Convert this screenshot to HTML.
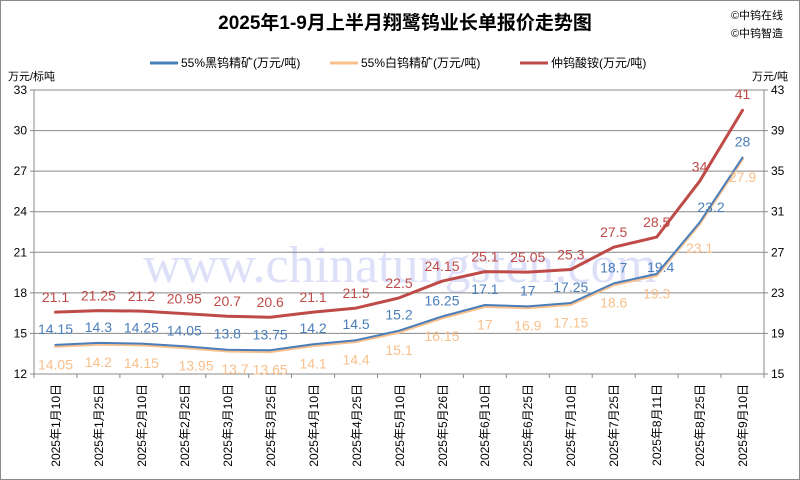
<!DOCTYPE html>
<html><head><meta charset="utf-8"><style>
html,body{margin:0;padding:0;background:#fff}
svg{display:block;font-family:"Liberation Sans","Noto Sans CJK SC",sans-serif}
</style></head><body>
<svg width="800" height="480" viewBox="0 0 800 480" xmlns="http://www.w3.org/2000/svg">
<rect x="0.5" y="0.5" width="799" height="479" fill="#fff" stroke="#8a8a8a"/>
<text x="405" y="29" text-anchor="middle" font-size="19" font-weight="bold" fill="#000">2025年1-9月上半月翔鹭钨业长单报价走势图</text>
<text x="757" y="19" text-anchor="middle" font-size="11" fill="#000">©中钨在线</text>
<text x="757" y="37" text-anchor="middle" font-size="11" fill="#000">©中钨智造</text>
<line x1="150" y1="63" x2="178" y2="63" stroke="#4a7ebb" stroke-width="3"/>
<text x="181" y="67" font-size="12">55%黑钨精矿(万元/吨)</text>
<line x1="330" y1="63" x2="358" y2="63" stroke="#f9c08c" stroke-width="3"/>
<text x="361" y="67" font-size="12">55%白钨精矿(万元/吨)</text>
<line x1="520" y1="63" x2="548" y2="63" stroke="#be4b48" stroke-width="3"/>
<text x="551" y="67" font-size="12">仲钨酸铵(万元/吨)</text>
<text x="8" y="80" font-size="11">万元/标吨</text>
<text x="752" y="80" font-size="11">万元/吨</text>
<text x="400" y="282" text-anchor="middle" font-size="52" font-family="Liberation Serif,serif" fill="#c8ccf4" opacity="0.6">www.chinatungsten.com</text>
<g stroke="#888" stroke-width="1">
<line x1="34" y1="90" x2="764" y2="90"/><line x1="34" y1="130.6" x2="764" y2="130.6"/>
<line x1="34" y1="171.1" x2="764" y2="171.1"/><line x1="34" y1="211.7" x2="764" y2="211.7"/>
<line x1="34" y1="252.3" x2="764" y2="252.3"/><line x1="34" y1="292.9" x2="764" y2="292.9"/>
<line x1="34" y1="333.4" x2="764" y2="333.4"/><line x1="30" y1="374" x2="768" y2="374"/>
<line x1="34" y1="90" x2="34" y2="374"/><line x1="764" y1="90" x2="764" y2="374"/>
<line x1="30" y1="90" x2="34" y2="90"/><line x1="30" y1="130.6" x2="34" y2="130.6"/><line x1="30" y1="171.1" x2="34" y2="171.1"/><line x1="30" y1="211.7" x2="34" y2="211.7"/><line x1="30" y1="252.3" x2="34" y2="252.3"/><line x1="30" y1="292.9" x2="34" y2="292.9"/><line x1="30" y1="333.4" x2="34" y2="333.4"/>
<line x1="764" y1="90" x2="768" y2="90"/><line x1="764" y1="130.6" x2="768" y2="130.6"/><line x1="764" y1="171.1" x2="768" y2="171.1"/><line x1="764" y1="211.7" x2="768" y2="211.7"/><line x1="764" y1="252.3" x2="768" y2="252.3"/><line x1="764" y1="292.9" x2="768" y2="292.9"/><line x1="764" y1="333.4" x2="768" y2="333.4"/>
<line x1="34" y1="374" x2="34" y2="378"/><line x1="76.9" y1="374" x2="76.9" y2="378"/><line x1="119.9" y1="374" x2="119.9" y2="378"/><line x1="162.8" y1="374" x2="162.8" y2="378"/><line x1="205.8" y1="374" x2="205.8" y2="378"/><line x1="248.7" y1="374" x2="248.7" y2="378"/><line x1="291.6" y1="374" x2="291.6" y2="378"/><line x1="334.6" y1="374" x2="334.6" y2="378"/><line x1="377.5" y1="374" x2="377.5" y2="378"/><line x1="420.5" y1="374" x2="420.5" y2="378"/><line x1="463.4" y1="374" x2="463.4" y2="378"/><line x1="506.3" y1="374" x2="506.3" y2="378"/><line x1="549.3" y1="374" x2="549.3" y2="378"/><line x1="592.2" y1="374" x2="592.2" y2="378"/><line x1="635.2" y1="374" x2="635.2" y2="378"/><line x1="678.1" y1="374" x2="678.1" y2="378"/><line x1="721" y1="374" x2="721" y2="378"/><line x1="764" y1="374" x2="764" y2="378"/>
</g>
<g font-size="12" fill="#000" text-anchor="end">
<text x="27" y="94">33</text><text x="27" y="134.6">30</text><text x="27" y="175.1">27</text><text x="27" y="215.7">24</text><text x="27" y="256.3">21</text><text x="27" y="296.9">18</text><text x="27" y="337.4">15</text><text x="27" y="378">12</text>
</g>
<g font-size="12" fill="#000">
<text x="771" y="94">43</text><text x="771" y="134.6">39</text><text x="771" y="175.1">35</text><text x="771" y="215.7">31</text><text x="771" y="256.3">27</text><text x="771" y="296.9">23</text><text x="771" y="337.4">19</text><text x="771" y="378">15</text>
</g>
<g font-size="12" fill="#000" text-anchor="end">
<text transform="translate(60,384) rotate(-90)">2025年1月10日</text>
<text transform="translate(103,384) rotate(-90)">2025年1月25日</text>
<text transform="translate(146,384) rotate(-90)">2025年2月10日</text>
<text transform="translate(189,384) rotate(-90)">2025年2月25日</text>
<text transform="translate(232,384) rotate(-90)">2025年3月10日</text>
<text transform="translate(275,384) rotate(-90)">2025年3月25日</text>
<text transform="translate(318,384) rotate(-90)">2025年4月10日</text>
<text transform="translate(361,384) rotate(-90)">2025年4月25日</text>
<text transform="translate(404,384) rotate(-90)">2025年5月10日</text>
<text transform="translate(447,384) rotate(-90)">2025年5月26日</text>
<text transform="translate(489,384) rotate(-90)">2025年6月10日</text>
<text transform="translate(532,384) rotate(-90)">2025年6月25日</text>
<text transform="translate(575,384) rotate(-90)">2025年7月10日</text>
<text transform="translate(618,384) rotate(-90)">2025年7月25日</text>
<text transform="translate(661,384) rotate(-90)">2025年8月11日</text>
<text transform="translate(704,384) rotate(-90)">2025年8月25日</text>
<text transform="translate(747,384) rotate(-90)">2025年9月10日</text>
</g>
<g fill="none" stroke-linejoin="round" stroke-linecap="round">
<polyline stroke="#f9c08c" stroke-width="3" points="55.5,346.3 98.4,344.2 141.4,344.9 184.3,347.6 227.3,351 270.2,351.7 313.1,345.6 356.1,341.5 399,332.1 442,317.9 484.9,306.4 527.8,307.7 570.8,304.4 613.7,284.7 656.7,275.3 699.6,223.8 742.5,158.9"/>
<polyline stroke="#4a7ebb" stroke-width="2" points="55.5,344.9 98.4,342.9 141.4,343.6 184.3,346.3 227.3,349.7 270.2,350.3 313.1,344.2 356.1,340.2 399,330.7 442,316.5 484.9,305 527.8,306.4 570.8,303 613.7,283.4 656.7,273.9 699.6,222.5 742.5,157.6"/>
<polyline stroke="#be4b48" stroke-width="3" points="55.5,312.1 98.4,310.6 141.4,311.1 184.3,313.6 227.3,316.2 270.2,317.2 313.1,312.1 356.1,308.1 399,297.9 442,281.2 484.9,271.6 527.8,272.1 570.8,269.5 613.7,247.2 656.7,237.1 699.6,181.3 742.5,110.3"/>
</g>
<g font-size="14" fill="#be4b48" text-anchor="middle">
<text x="55.5" y="302">21.1</text><text x="98.4" y="300.6">21.25</text><text x="141.4" y="301.1">21.2</text><text x="184.3" y="303.6">20.95</text><text x="227.3" y="306.2">20.7</text><text x="270.2" y="307.2">20.6</text><text x="313.1" y="302">21.1</text><text x="356.1" y="298">21.5</text><text x="399" y="287.9">22.5</text><text x="442" y="271.2">24.15</text><text x="484.9" y="261.6">25.1</text><text x="527.8" y="262">25.05</text><text x="570.8" y="259.5">25.3</text><text x="613.7" y="237.2">27.5</text><text x="656.7" y="227">28.5</text><text x="699.6" y="171.3">34</text><text x="742.5" y="99">41</text>
</g>
<g font-size="14" fill="#4a7ebb" text-anchor="middle">
<text x="55.5" y="334">14.15</text><text x="98.4" y="332">14.3</text><text x="141.4" y="332.6">14.25</text><text x="184.3" y="335.3">14.05</text><text x="227.3" y="338.7">13.8</text><text x="270.2" y="339.3">13.75</text><text x="313.1" y="333.2">14.2</text><text x="356.1" y="329.2">14.5</text><text x="399" y="319.7">15.2</text><text x="442" y="305.5">16.25</text><text x="484.9" y="294">17.1</text><text x="527.8" y="295.4">17</text><text x="570.8" y="292">17.25</text><text x="613.7" y="272.4">18.7</text><text x="660.7" y="272">19.4</text><text x="711" y="212">23.2</text><text x="742.5" y="146.6">28</text>
</g>
<g font-size="14" fill="#f9c08c" text-anchor="middle">
<text x="55.5" y="369.3">14.05</text><text x="98.4" y="367.2">14.2</text><text x="141.4" y="367.9">14.15</text><text x="196" y="370.6">13.95</text><text x="235" y="374">13.7</text><text x="270.2" y="374.7">13.65</text><text x="313.1" y="368.6">14.1</text><text x="356.1" y="364.5">14.4</text><text x="399" y="355.1">15.1</text><text x="442" y="340.9">16.15</text><text x="484.9" y="329.4">17</text><text x="527.8" y="330.7">16.9</text><text x="570.8" y="327.4">17.15</text><text x="613.7" y="307.7">18.6</text><text x="656.7" y="298.3">19.3</text><text x="699.6" y="253">23.1</text><text x="742.5" y="182">27.9</text>
</g>
</svg>
</body></html>
